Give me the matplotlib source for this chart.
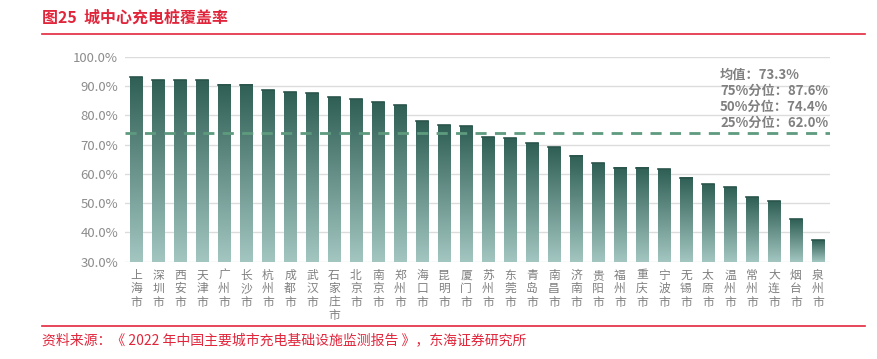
import numpy as np
import matplotlib.pyplot as plt
from matplotlib.colors import LinearSegmentedColormap

plt.rcParams['font.family'] = ['Noto Sans CJK SC', 'DejaVu Sans']

cities = ['上海市', '深圳市', '西安市', '天津市', '广州市', '长沙市', '杭州市', '成都市',
          '武汉市', '石家庄市', '北京市', '南京市', '郑州市', '海口市', '昆明市', '厦门市',
          '苏州市', '东莞市', '青岛市', '南昌市', '济南市', '贵阳市', '福州市', '重庆市',
          '宁波市', '无锡市', '太原市', '温州市', '常州市', '大连市', '烟台市', '泉州市']
coverage = [93.1, 92.0, 92.0, 91.9, 90.5, 90.5, 88.6, 88.0,
            87.5, 86.1, 85.6, 84.6, 83.5, 78.1, 76.7, 76.3,
            72.5, 72.1, 70.6, 69.2, 66.2, 63.6, 62.1, 62.1,
            61.6, 58.7, 56.5, 55.6, 52.0, 50.7, 44.6, 37.4]
mean_line = 73.8  # dashed line as drawn in the picture (label says 73.3%)
stats_text = ['均值：73.3%', '75%分位：87.6%', '50%分位：74.4%', '25%分位：62.0%']
yticks = [30, 40, 50, 60, 70, 80, 90, 100]

RED = '#e1263c'
GRAY = '#808080'
cmap = LinearSegmentedColormap.from_list('bar', ['#a3c6c1', '#2f5f55'])

fig = plt.figure(figsize=(8.77, 3.59), dpi=100)
ax = fig.add_axes([125 / 877, 1 - 261.7 / 359, (830 - 125) / 877, (261.7 - 56.7) / 359])

ymin, ymax = 30, 100
width = 0.55
grad = np.linspace(0, 1, 256).reshape(-1, 1)
for i, v in enumerate(coverage):
    ax.imshow(grad, extent=[i - width / 2, i + width / 2, ymin, v], origin='lower',
              cmap=cmap, aspect='auto', zorder=3, interpolation='bicubic')
    ax.plot([i - width / 2, i + width / 2], [v, v], color='#2a554c', lw=1.2, zorder=4)

ax.axhline(mean_line, color='#5e9b7e', lw=2, ls=(0, (4, 3)), zorder=5)

ax.set_xlim(-0.5, 31.55)
ax.set_ylim(ymin, ymax)
ax.set_yticks(yticks)
ax.set_yticklabels([f'{t:.1f}%' for t in yticks], color='#8c8c8c', fontsize=9.5)
ax.set_xticks(range(len(cities)))
ax.set_xticklabels(['\n'.join(c) for c in cities], color=GRAY, fontsize=8.5,
                   linespacing=1.05, va='top')
ax.tick_params(length=0, pad=5)
ax.grid(axis='y', color='#dcdcdc', lw=1, zorder=0)
for s in ax.spines.values():
    s.set_visible(False)

for k, t in enumerate(stats_text):
    fig.text(720 / 877, 1 - (75 + 16 * k) / 359, t, color=GRAY, fontsize=9.5,
             fontweight='bold', va='center', ha='left')

fig.text(42 / 877, 1 - 18 / 359, '图25  城中心充电桩覆盖率', color=RED, fontsize=11.5,
         fontweight='bold', va='center', ha='left')
fig.add_artist(plt.Line2D([42 / 877, 865 / 877], [1 - 34 / 359] * 2, color=RED, lw=1.2))
fig.add_artist(plt.Line2D([42 / 877, 865 / 877], [1 - 326 / 359] * 2, color=RED, lw=1.2))
fig.text(42 / 877, 1 - 340 / 359,
         '资料来源：《 2022 年中国主要城市充电基础设施监测报告 》，东海证券研究所',
         color=RED, fontsize=10, va='center', ha='left')

fig.savefig('out.png', dpi=100, facecolor='white')
